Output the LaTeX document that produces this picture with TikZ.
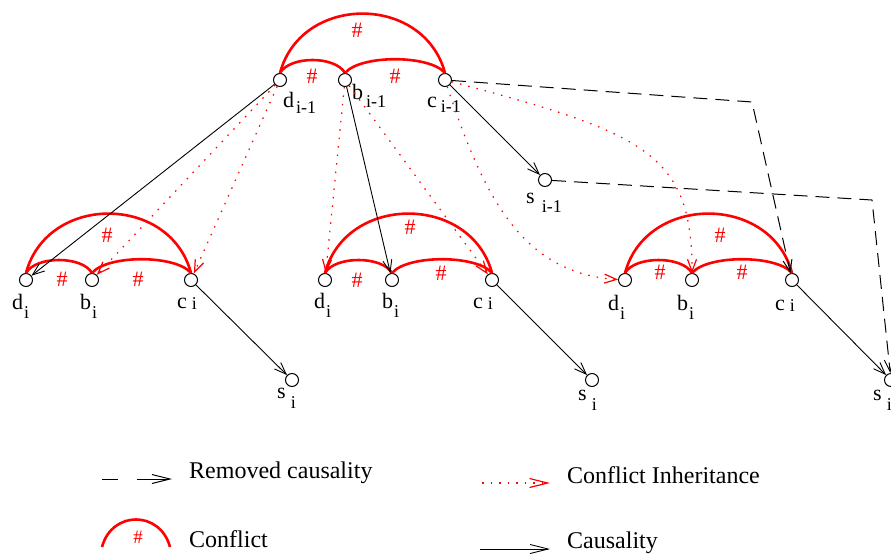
\documentclass[tikz,border=0pt]{standalone}
\usepackage{fontspec}
\setmainfont{Liberation Serif}
\usetikzlibrary{arrows.meta,calc}
\tikzset{
 pt/.style={circle,draw,fill=white,minimum size=13pt,inner sep=0pt,line width=1pt},
 conf/.style={red,line width=2.6pt},
 hash/.style={red,font=\fontsize{22}{22}\selectfont,inner sep=0pt},
 caus/.style={black,line width=0.9pt,-{Straight Barb[length=12pt,width=9pt]}},
 inh/.style={red,line width=1.2pt,dash pattern=on 1.5pt off 7pt,-{Straight Barb[length=12pt,width=9pt]}},
 rem/.style={black,line width=1pt,dash pattern=on 14pt off 8pt,-{Straight Barb[length=12pt,width=9pt]}},
 lbl/.style={inner sep=0pt,anchor=base west,font=\fontsize{22}{22}\selectfont},
 leg/.style={inner sep=0pt,anchor=base west,font=\fontsize{24}{24}\selectfont},
 bigarc/.style={out=75,in=105,distance=82pt},
 dbarc/.style={out=60,in=120,distance=20pt},
 bcarc/.style={out=50,in=130,distance=24pt},
}
\newcommand\lab[4]{#1\hspace{#3}\raisebox{-#4}{\fontsize{18}{18}\selectfont #2}}
\begin{document}
\begin{tikzpicture}[x=1pt,y=1pt]
\useasboundingbox (0,0) rectangle (891,-554);
% nodes
\node[pt] (dA) at (280,-80) {};
\node[pt] (bA) at (345,-80) {};
\node[pt] (cA) at (445,-80) {};
\node[pt] (sA) at (545,-180) {};
\node[pt] (dL) at (26,-280) {};
\node[pt] (bL) at (92,-280) {};
\node[pt] (cL) at (191,-280) {};
\node[pt] (sL) at (292,-380) {};
\node[pt] (dM) at (325,-280) {};
\node[pt] (bM) at (392,-280) {};
\node[pt] (cM) at (492,-280) {};
\node[pt] (sM) at (592,-380) {};
\node[pt] (dR) at (625,-280) {};
\node[pt] (bR) at (692,-280) {};
\node[pt] (cR) at (792,-280) {};
\node[pt] (sR) at (891,-380) {};
% labels
\node[lbl] (ldA) at (283,-107) {\lab{d}{i-1}{2pt}{6pt}};
\node[lbl] (lbA) at (352,-99) {\lab{b}{i-1}{3pt}{8pt}};
\node[lbl] (lcA) at (427,-107) {\lab{c}{i-1}{4pt}{5pt}};
\node[lbl] (lsA) at (526,-203) {\lab{s}{i-1}{7pt}{9pt}};
\node[lbl] (ldL) at (12,-309) {\lab{d}{i}{1pt}{9pt}};
\node[lbl] (lbL) at (80,-309) {\lab{b}{i}{1pt}{9pt}};
\node[lbl] (lcL) at (177,-308) {\lab{c}{i}{5pt}{1pt}};
\node[lbl] (lsL) at (277,-398) {\lab{s}{i}{5pt}{10pt}};
\node[lbl] (ldM) at (314,-308) {\lab{d}{i}{1pt}{9pt}};
\node[lbl] (lbM) at (382,-308) {\lab{b}{i}{1pt}{9pt}};
\node[lbl] (lcM) at (473,-308) {\lab{c}{i}{5pt}{1pt}};
\node[lbl] (lsM) at (578,-400) {\lab{s}{i}{5pt}{10pt}};
\node[lbl] (ldR) at (608,-310) {\lab{d}{i}{1pt}{9pt}};
\node[lbl] (lbR) at (677,-310) {\lab{b}{i}{1pt}{9pt}};
\node[lbl] (lcR) at (775,-310) {\lab{c}{i}{5pt}{1pt}};
\node[lbl] (lsR) at (873,-400) {\lab{s}{i}{5pt}{10pt}};
% conflict arcs
\draw[conf] (dA.north) to[bigarc] (cA.north);
\draw[conf] (dA.north) to[dbarc] (bA.north);
\draw[conf] (bA.north) to[bcarc] (cA.north);
\draw[conf] (dL.north) to[bigarc] (cL.north);
\draw[conf] (dL.north) to[dbarc] (bL.north);
\draw[conf] (bL.north) to[bcarc] (cL.north);
\draw[conf] (dM.north) to[bigarc] (cM.north);
\draw[conf] (dM.north) to[dbarc] (bM.north);
\draw[conf] (bM.north) to[bcarc] (cM.north);
\draw[conf] (dR.north) to[bigarc] (cR.north);
\draw[conf] (dR.north) to[dbarc] (bR.north);
\draw[conf] (bR.north) to[bcarc] (cR.north);
% hashes
\node[hash] (h1) at (357,-30) {\#};
\node[hash] (h2) at (312,-76) {\#};
\node[hash] (h3) at (395,-76) {\#};
\node[hash] (h4) at (107,-235) {\#};
\node[hash] (h5) at (62,-279) {\#};
\node[hash] (h6) at (138,-279) {\#};
\node[hash] (h7) at (410,-227) {\#};
\node[hash] (h8) at (357,-280) {\#};
\node[hash] (h9) at (441,-273) {\#};
\node[hash] (h10) at (720,-235) {\#};
\node[hash] (h11) at (660,-272) {\#};
\node[hash] (h12) at (742,-272) {\#};
% causality
\draw[caus] (dA) -- (dL);
\draw[caus] (bA) -- (bM);
\draw[caus] (cA) -- (sA);
\draw[caus] (cL) -- (sL);
\draw[caus] (cM) -- (sM);
\draw[caus] (cR) -- (sR);
% conflict inheritance
\draw[inh] (dA) -- (bL);
\draw[inh] (dA) -- (cL);
\draw[inh] (bA) -- (dM);
\draw[inh] (bA) -- (cM);
\draw[inh] (cA) .. controls (482,-191) and (519,-273) .. (dR);
\draw[inh] (cA) .. controls (646,-133) and (692,-154) .. (bR);
% removed causality
\coordinate (k1) at (752,-102);
\coordinate (k2) at (872,-200);
\draw[rem] (cA) -- (k1) -- (cR);
\draw[rem] (sA) -- (k2) -- (sR);
% legend
\coordinate (l1a) at (102,-479); \coordinate (l1b) at (118,-479);
\coordinate (l1c) at (137,-479); \coordinate (l1d) at (172,-479);
\draw[line width=1pt] (l1a) -- (l1b);
\draw[line width=1pt,-{Straight Barb[length=18pt,width=9pt]}] (l1c) -- (l1d);
\node[leg] (t1) at (189,-478) {Removed causality};
\coordinate (l2a) at (102,-547); \coordinate (l2b) at (170,-547);
\draw[conf] (l2a) to[out=75,in=105,distance=38pt] (l2b);
\node[hash,font=\fontsize{19}{19}\selectfont] (lh) at (138,-537) {\#};
\node[leg] (t2) at (189,-547) {Conflict};
\coordinate (l3a) at (482,-483); \coordinate (l3b) at (550,-483);
\draw[red,line width=1.2pt,dash pattern=on 1.5pt off 7pt,-{Straight Barb[length=18pt,width=9pt]}] (l3a) -- (l3b);
\node[leg] (t3) at (567,-483) {Conflict Inheritance};
\coordinate (l4a) at (480,-549); \coordinate (l4b) at (550,-549);
\draw[line width=0.9pt,-{Straight Barb[length=18pt,width=9pt]}] (l4a) -- (l4b);
\node[leg] (t4) at (567,-548) {Causality};
\end{tikzpicture}
\end{document}
